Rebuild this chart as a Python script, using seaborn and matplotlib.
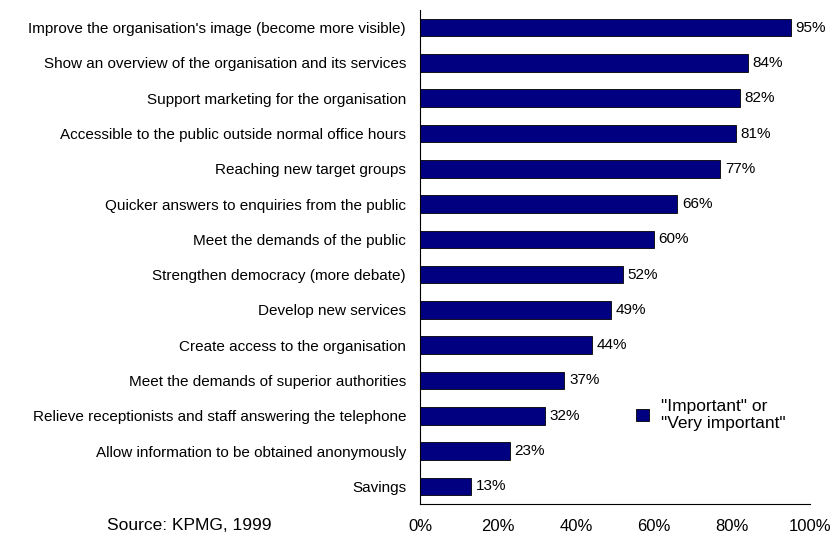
import matplotlib
matplotlib.use("Agg")
import matplotlib.pyplot as plt
import seaborn as sns
import pandas as pd
from matplotlib.ticker import FixedLocator

categories = [
    "Improve the organisation's image (become more visible)",
    "Show an overview of the organisation and its services",
    "Support marketing for the organisation",
    "Accessible to the public outside normal office hours",
    "Reaching new target groups",
    "Quicker answers to enquiries from the public",
    "Meet the demands of the public",
    "Strengthen democracy (more debate)",
    "Develop new services",
    "Create access to the organisation",
    "Meet the demands of superior authorities",
    "Relieve receptionists and staff answering the telephone",
    "Allow information to be obtained anonymously",
    "Savings",
]
values = [95, 84, 82, 81, 77, 66, 60, 52, 49, 44, 37, 32, 23, 13]
x_ticks = [0, 20, 40, 60, 80, 100]
legend_label = '"Important" or\n"Very important"'

sns.set_style("white")
plt.rcParams["font.family"] = ["Liberation Sans", "DejaVu Sans"]
plt.rcParams["text.color"] = "black"
plt.rcParams["xtick.color"] = "black"
plt.rcParams["ytick.color"] = "black"

df = pd.DataFrame({"reason": categories, "share": values})

fig = plt.figure(figsize=(8.33, 5.37), dpi=100)
ax = fig.add_axes([420 / 833, 1 - 504 / 537, 390 / 833, 494 / 537])

sns.barplot(data=df, y="reason", x="share", orient="h", color="#000080",
            saturation=1, width=0.5, edgecolor="black", linewidth=0.6,
            ax=ax, label=legend_label)

for i, v in enumerate(values):
    ax.text(v + 1.2, i, f"{v}%", va="center", ha="left", fontsize=11)

ax.set_xlim(0, 100)
ax.set_ylim(len(categories) - 0.5, -0.5)
ax.set_xticks(x_ticks)
ax.set_xticklabels([f"{t}%" for t in x_ticks], fontsize=12)
ax.set_xlabel("")
ax.set_ylabel("")
ax.tick_params(axis="y", which="major", length=0, labelsize=11, pad=10)
ax.yaxis.set_minor_locator(FixedLocator([i - 0.5 for i in range(len(categories) + 1)]))
ax.tick_params(axis="y", which="minor", length=4, direction="out", color="black")
ax.tick_params(axis="x", which="major", length=5, direction="inout", color="black", pad=8)

for side in ["top", "right"]:
    ax.spines[side].set_visible(False)
for side in ["left", "bottom"]:
    ax.spines[side].set_color("black")
    ax.spines[side].set_linewidth(0.8)

ax.legend(loc="upper left", bbox_to_anchor=(0.515, 0.245), frameon=False,
          fontsize=12.5, handlelength=0.7, handleheight=0.7, handletextpad=0.7,
          labelspacing=0.2)

fig.text(107 / 833, 1 - 525 / 537, "Source: KPMG, 1999", fontsize=12.5,
         ha="left", va="center")

fig.savefig("out.png", dpi=100)
